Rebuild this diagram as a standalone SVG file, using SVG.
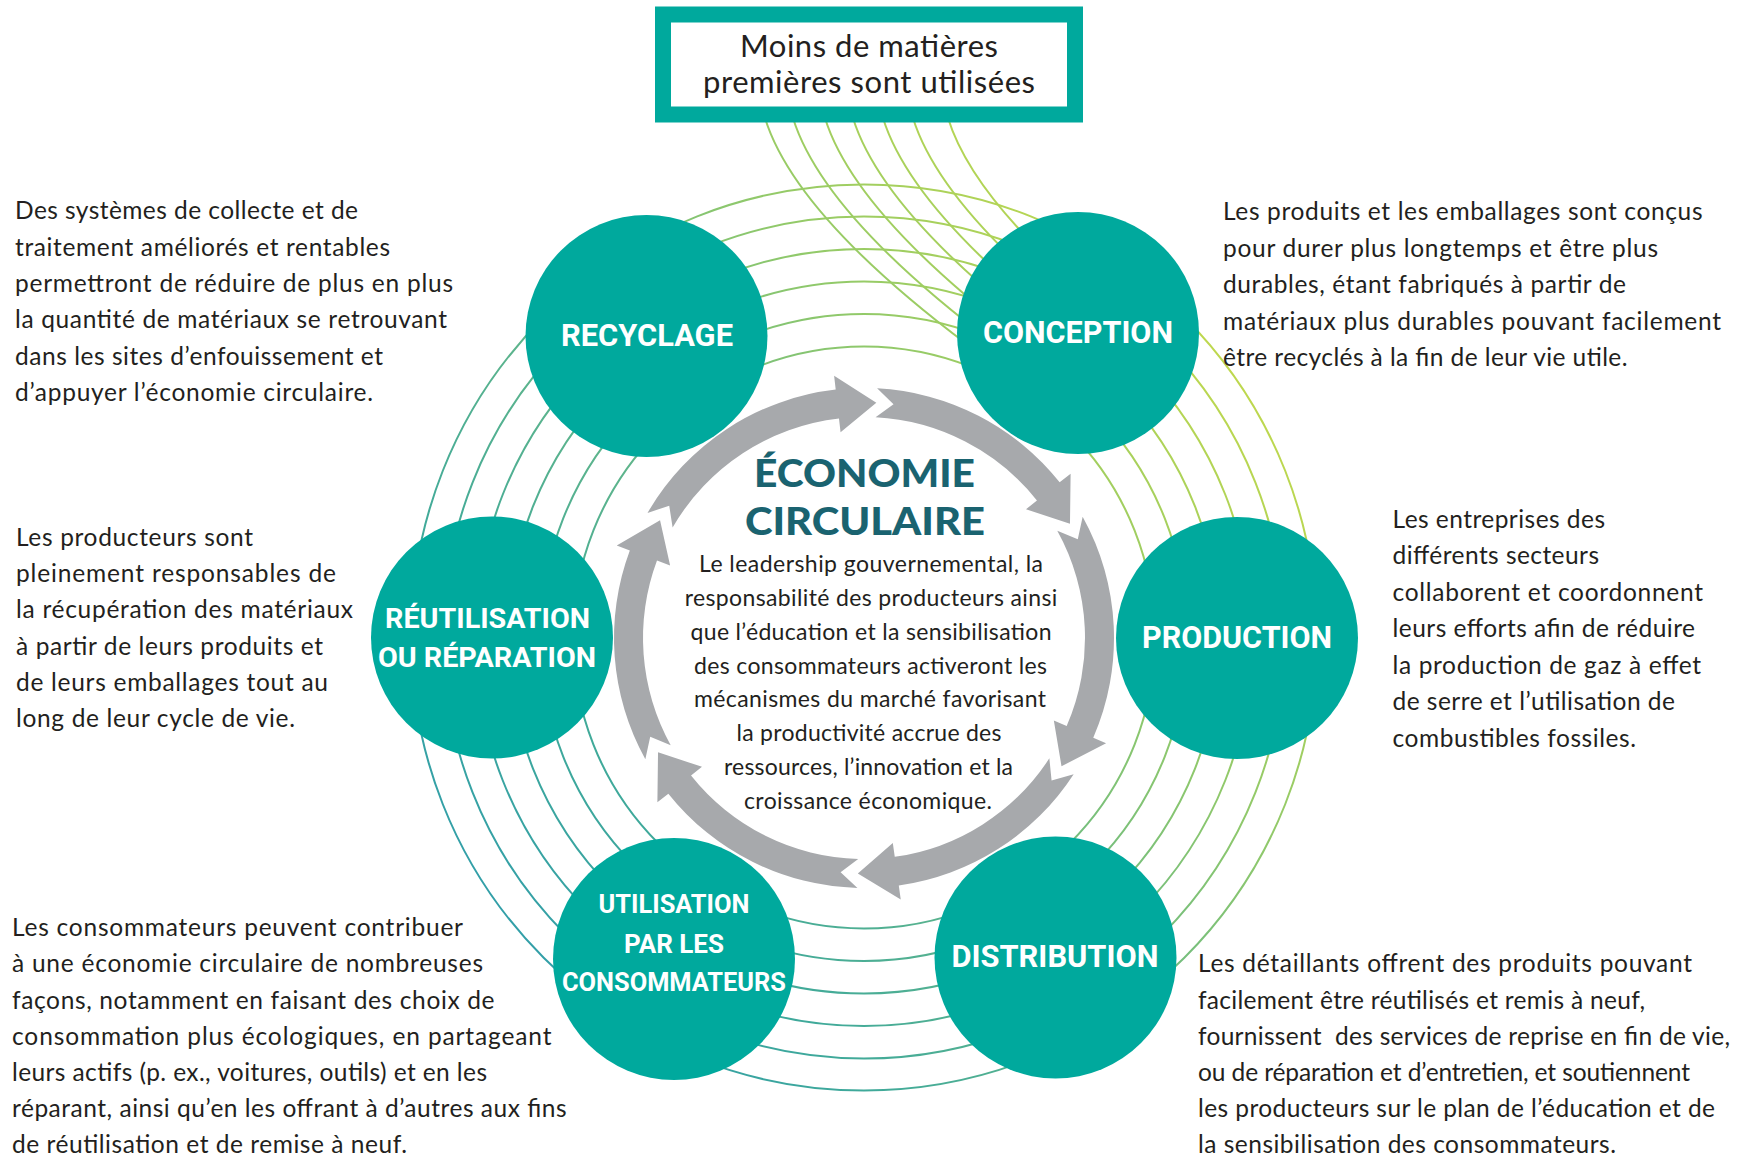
<svg xmlns="http://www.w3.org/2000/svg" width="1750" height="1156" viewBox="0 0 1750 1156">
<defs>
<linearGradient id="ringGrad" gradientUnits="userSpaceOnUse" x1="420" y1="1000" x2="1320" y2="280">
<stop offset="0" stop-color="#2a98b2"/>
<stop offset="0.25" stop-color="#3fa99a"/>
<stop offset="0.45" stop-color="#62b68a"/>
<stop offset="0.65" stop-color="#8ec86c"/>
<stop offset="0.85" stop-color="#b8d652"/>
<stop offset="1" stop-color="#cddc45"/>
</linearGradient>
<style>
.ring{fill:none;stroke:url(#ringGrad);stroke-width:2}
.node{fill:#00a99d}
.lbl{font-family:Roboto,"Liberation Sans",sans-serif;font-weight:700;fill:#ffffff;text-anchor:middle}
.txt{font-family:Lato,"Liberation Sans",sans-serif;fill:#231f20}
.side{font-size:24.5px}
.mid{font-size:23px;text-anchor:middle}
.box{font-size:31px;text-anchor:middle}
.title{font-family:Lato,"Liberation Sans",sans-serif;font-weight:900;font-size:38px;fill:#1a6370;text-anchor:middle}
.arrow{fill:#a7a9ac}
</style>
</defs>
<rect width="1750" height="1156" fill="#ffffff"/>

<g id="rings">
<circle class="ring" cx="864" cy="637.5" r="291"/>
<circle class="ring" cx="864" cy="637.5" r="323.5"/>
<circle class="ring" cx="864" cy="637.5" r="356"/>
<circle class="ring" cx="864" cy="637.5" r="388.5"/>
<circle class="ring" cx="864" cy="637.5" r="421"/>
<circle class="ring" cx="864" cy="637.5" r="453"/>
<path class="ring" d="M765,118 Q795,215 968,345"/>
<path class="ring" d="M793,118 Q823,215 996,345"/>
<path class="ring" d="M825,118 Q855,215 1028,345"/>
<path class="ring" d="M853,118 Q883,215 1056,345"/>
<path class="ring" d="M883,118 Q913,215 1086,345"/>
<path class="ring" d="M913,118 Q943,215 1116,345"/>
<path class="ring" d="M948,118 Q978,215 1151,345"/>
</g>

<g id="connectors">
<path class="arrow" d="M647.49,513 A250,250 0 0 1 835.70,389.61 L834.12,375.70 L876.33,402.82 L840.57,432.33 L838.98,418.42 A221,221 0 0 0 672.61,527.5 L669.22,505.63 Z"/>
<path class="arrow" d="M877.09,388.34 A250,250 0 0 1 1059.65,482.37 L1070.61,473.66 L1069.97,523.83 L1026.0,509.14 L1036.96,500.43 A221,221 0 0 0 875.57,417.30 L893.52,404.36 Z"/>
<path class="arrow" d="M1082.66,516.80 A250,250 0 0 1 1093.27,737.69 L1106.10,743.27 L1061.51,766.26 L1053.83,720.54 L1066.67,726.12 A221,221 0 0 0 1057.29,530.86 L1077.78,539.22 Z"/>
<path class="arrow" d="M1073.67,774.16 A250,250 0 0 1 898.79,885.57 L900.74,899.43 L857.83,873.42 L892.81,842.99 L894.76,856.85 A221,221 0 0 0 1049.35,758.37 L1051.58,780.38 Z"/>
<path class="arrow" d="M857.45,887.91 A250,250 0 0 1 668.35,793.63 L657.39,802.34 L658.03,752.17 L702.0,766.86 L691.04,775.57 A221,221 0 0 0 858.21,858.92 L840.61,872.34 Z"/>
<path class="arrow" d="M645.34,759.20 A250,250 0 0 1 629.83,550.45 L616.72,545.54 L660.05,520.25 L670.11,565.51 L657.0,560.60 A221,221 0 0 0 670.71,745.14 L650.22,736.78 Z"/>
</g>

<g id="raw-materials">
<rect x="663" y="14.5" width="412" height="100" fill="#ffffff" stroke="#00a99d" stroke-width="16"/>
<text class="txt box" x="869" y="57" textLength="258">Moins de matières</text>
<text class="txt box" x="869" y="93" textLength="332">premières sont utilisées</text>
</g>

<g id="recyclage">
<circle class="node" cx="646.5" cy="336" r="121"/>
<text class="lbl" x="647" y="346" font-size="31" textLength="172" lengthAdjust="spacingAndGlyphs">RECYCLAGE</text>
</g>
<g id="conception">
<circle class="node" cx="1078" cy="333" r="121"/>
<text class="lbl" x="1078" y="342.5" font-size="31" textLength="190" lengthAdjust="spacingAndGlyphs">CONCEPTION</text>
</g>
<g id="production">
<circle class="node" cx="1237" cy="638" r="121"/>
<text class="lbl" x="1237" y="647.5" font-size="31" textLength="190" lengthAdjust="spacingAndGlyphs">PRODUCTION</text>
</g>
<g id="distribution">
<circle class="node" cx="1055.5" cy="957.5" r="121"/>
<text class="lbl" x="1055" y="967" font-size="31" textLength="207" lengthAdjust="spacingAndGlyphs">DISTRIBUTION</text>
</g>
<g id="utilisation">
<circle class="node" cx="674" cy="959" r="121"/>
<text class="lbl" x="674" y="913" font-size="25" textLength="151" lengthAdjust="spacingAndGlyphs">UTILISATION</text>
<text class="lbl" x="674" y="952.5" font-size="25" textLength="100" lengthAdjust="spacingAndGlyphs">PAR LES</text>
<text class="lbl" x="674" y="990.5" font-size="25" textLength="224" lengthAdjust="spacingAndGlyphs">CONSOMMATEURS</text>
</g>
<g id="reutilisation">
<circle class="node" cx="492" cy="637.5" r="121"/>
<text class="lbl" x="487.5" y="628" font-size="28" textLength="205" lengthAdjust="spacingAndGlyphs">RÉUTILISATION</text>
<text class="lbl" x="487" y="667" font-size="28" textLength="218" lengthAdjust="spacingAndGlyphs">OU RÉPARATION</text>
</g>

<g id="economie-circulaire">
<text class="title" x="864.5" y="487" textLength="221" lengthAdjust="spacingAndGlyphs">ÉCONOMIE</text>
<text class="title" x="865" y="535" textLength="240" lengthAdjust="spacingAndGlyphs">CIRCULAIRE</text>
<text class="txt mid" x="871" y="572" textLength="344">Le leadership gouvernemental, la</text>
<text class="txt mid" x="871" y="605.5" textLength="372.5">responsabilité des producteurs ainsi</text>
<text class="txt mid" x="871" y="639.5" textLength="361">que l’éducation et la sensibilisation</text>
<text class="txt mid" x="870.5" y="673.5" textLength="353">des consommateurs activeront les</text>
<text class="txt mid" x="870" y="707" textLength="352">mécanismes du marché favorisant</text>
<text class="txt mid" x="869" y="741" textLength="265">la productivité accrue des</text>
<text class="txt mid" x="868.5" y="775" textLength="289">ressources, l’innovation et la</text>
<text class="txt mid" x="868" y="808.5" textLength="248">croissance économique.</text>
</g>

<g id="desc-recyclage" class="txt side">
<text x="15" y="219" textLength="343">Des systèmes de collecte et de</text>
<text x="15" y="255.5" textLength="375">traitement améliorés et rentables</text>
<text x="15" y="292" textLength="438">permettront de réduire de plus en plus</text>
<text x="15" y="328" textLength="432">la quantité de matériaux se retrouvant</text>
<text x="15" y="364.5" textLength="368">dans les sites d’enfouissement et</text>
<text x="15" y="401" textLength="358">d’appuyer l’économie circulaire.</text>
</g>
<g id="desc-reutilisation" class="txt side">
<text x="16" y="545.5" textLength="237">Les producteurs sont</text>
<text x="16" y="582" textLength="320">pleinement responsables de</text>
<text x="16" y="618" textLength="337">la récupération des matériaux</text>
<text x="16" y="654.5" textLength="307">à partir de leurs produits et</text>
<text x="16" y="691" textLength="312">de leurs emballages tout au</text>
<text x="16" y="727" textLength="279">long de leur cycle de vie.</text>
</g>
<g id="desc-conception" class="txt side">
<text x="1223" y="220" textLength="479.5">Les produits et les emballages sont conçus</text>
<text x="1223" y="256.5" textLength="435">pour durer plus longtemps et être plus</text>
<text x="1223" y="293" textLength="403">durables, étant fabriqués à partir de</text>
<text x="1223" y="329.5" textLength="498">matériaux plus durables pouvant facilement</text>
<text x="1223" y="366" textLength="404.5">être recyclés à la fin de leur vie utile.</text>
</g>
<g id="desc-production" class="txt side">
<text x="1392.5" y="527.5" textLength="212.5">Les entreprises des</text>
<text x="1392.5" y="564" textLength="206.5">différents secteurs</text>
<text x="1392.5" y="600.5" textLength="310.5">collaborent et coordonnent</text>
<text x="1392.5" y="637" textLength="302.5">leurs efforts afin de réduire</text>
<text x="1392.5" y="673.5" textLength="308.5">la production de gaz à effet</text>
<text x="1392.5" y="710" textLength="282.5">de serre et l’utilisation de</text>
<text x="1392.5" y="746.5" textLength="243.5">combustibles fossiles.</text>
</g>
<g id="desc-utilisation" class="txt side">
<text x="12" y="936" textLength="451">Les consommateurs peuvent contribuer</text>
<text x="12" y="972" textLength="471">à une économie circulaire de nombreuses</text>
<text x="12" y="1008.5" textLength="482.5">façons, notamment en faisant des choix de</text>
<text x="12" y="1045" textLength="539.5">consommation plus écologiques, en partageant</text>
<text x="12" y="1081" textLength="475">leurs actifs (p. ex., voitures, outils) et en les</text>
<text x="12" y="1117" textLength="554.5">réparant, ainsi qu’en les offrant à d’autres aux fins</text>
<text x="12" y="1153" textLength="395">de réutilisation et de remise à neuf.</text>
</g>
<g id="desc-distribution" class="txt side">
<text x="1198" y="972" textLength="494">Les détaillants offrent des produits pouvant</text>
<text x="1198" y="1008.5" textLength="447">facilement être réutilisés et remis à neuf,</text>
<text x="1198" y="1045" textLength="532">fournissent&#160; des services de reprise en fin de vie,</text>
<text x="1198" y="1081" textLength="492">ou de réparation et d’entretien, et soutiennent</text>
<text x="1198" y="1117" textLength="517">les producteurs sur le plan de l’éducation et de</text>
<text x="1198" y="1153" textLength="418">la sensibilisation des consommateurs.</text>
</g>
</svg>
